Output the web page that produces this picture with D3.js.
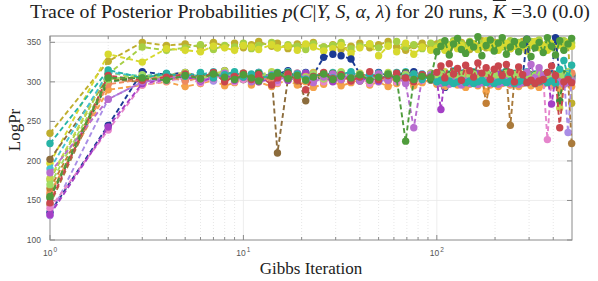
<!DOCTYPE html>
<html>
<head>
<meta charset="utf-8">
<script src="https://cdn.jsdelivr.net/npm/d3@7"></script>
<style>
    body { margin: 0; background: #fff; }
    svg { display: block; }
</style>
</head>
<body>
<div id="chart"></div>
<script>
const iters = [1, 2, 3, 4, 5, 6, 7, 8, 9, 10,
    11, 12, 14, 15, 17, 19, 21, 23, 26, 29, 32, 36, 40, 45, 50, 56, 62, 69, 76, 84, 93,
    100, 105, 110, 116, 122, 128, 134, 141, 148, 155, 163, 171, 180, 189, 198, 208, 218, 229, 240, 252,
    265, 278, 292, 307, 322, 338, 355, 373, 392, 411, 432, 454, 477, 498];

const runColors = ['#bfae2e', '#a6cf45', '#d7d92f', '#1b3a93', '#8c6c3c', '#f4a24a', '#c27f35', '#a97a3b', '#a98ee6', '#c5d54e',
    '#45c4d3', '#3f8c3b', '#e585cc', '#a43fc6', '#ee8a5f', '#9fdc64', '#b86dcf', '#27b4a6', '#c9464d', '#4f9c3c'];

const logPr = [
    [235, 326, 350, 346, 348, 344, 350, 345, 349, 343,
     347, 351, 345, 349, 342, 348, 346, 350, 344, 347, 341, 345, 349, 343, 347, 351, 344, 340, 346, 349, 343,
     348, 345, 351, 342, 347, 344, 350, 346, 341, 348, 345, 352, 343, 347, 350, 344, 349, 346, 342, 348,
     345, 351, 343, 347, 344, 350, 346, 341, 348, 345, 352, 344, 349, 273],
    [176, 310, 344, 340, 343, 347, 341, 346, 344, 349,
     342, 346, 350, 343, 347, 345, 341, 348, 344, 346, 350, 342, 345, 348, 343, 346, 351, 344, 347, 342, 349,
     345, 350, 343, 347, 352, 345, 348, 344, 351, 346, 343, 349, 347, 353, 345, 350, 344, 348, 352, 346,
     350, 347, 344, 351, 348, 353, 345, 349, 343, 350, 347, 352, 346, 349],
    [197, 335, 325, 342, 340, 338, 345, 343, 340, 346,
     344, 341, 347, 343, 345, 340, 348, 344, 339, 342, 346, 336, 343, 348, 333, 345, 338, 349, 335, 344, 340,
     343, 347, 340, 345, 350, 342, 346, 339, 344, 348, 341, 345, 352, 343, 347, 340, 346, 349, 342, 345,
     348, 344, 339, 347, 351, 343, 346, 340, 349, 344, 347, 341, 350, 345],
    [135, 245, 313, 309, 312, 306, 310, 314, 307, 311,
     308, 312, 306, 310, 314, 308, 312, 309, 331, 335, 333, 329, 310, 306, 312, 308, 304, 309, 313, 307, 311,
     308, 311, 293, 306, 312, 304, 309, 313, 306, 310, 303, 308, 312, 306, 309, 305, 311, 307, 303, 308,
     312, 306, 354, 309, 305, 311, 307, 302, 308, 356, 306, 310, 304, 308],
    [202, 305, 300, 304, 308, 302, 306, 310, 303, 307,
     301, 305, 309, 210, 304, 307, 276, 302, 306, 310, 303, 307, 301, 305, 309, 302, 306, 300, 304, 308, 302,
     306, 301, 305, 309, 303, 307, 300, 304, 308, 302, 306, 310, 303, 307, 301, 305, 309, 302, 306, 300,
     304, 308, 302, 306, 301, 305, 309, 303, 307, 300, 304, 308, 302, 306],
    [160, 290, 296, 300, 294, 298, 302, 295, 299, 303,
     296, 300, 294, 298, 302, 296, 300, 293, 297, 301, 295, 299, 303, 296, 300, 294, 298, 302, 295, 299, 303,
     297, 301, 294, 298, 302, 296, 300, 293, 297, 301, 295, 299, 288, 296, 300, 294, 298, 302, 296, 300,
     294, 298, 301, 295, 299, 293, 297, 301, 295, 299, 291, 297, 300, 294],
    [165, 300, 308, 304, 309, 303, 307, 311, 305, 309,
     302, 306, 310, 304, 308, 301, 305, 309, 303, 307, 311, 305, 309, 302, 306, 310, 304, 308, 301, 305, 309,
     303, 307, 311, 305, 309, 302, 306, 310, 304, 308, 302, 306, 273, 304, 308, 302, 306, 310, 304, 308,
     301, 305, 309, 303, 307, 311, 305, 309, 302, 306, 310, 304, 308, 311],
    [145, 303, 300, 305, 309, 302, 306, 310, 304, 308,
     301, 305, 309, 303, 307, 311, 304, 308, 302, 306, 310, 303, 307, 301, 305, 309, 302, 306, 310, 304, 308,
     302, 306, 310, 304, 308, 301, 305, 309, 303, 307, 311, 305, 309, 302, 306, 310, 304, 308, 245, 303,
     307, 301, 305, 309, 302, 306, 300, 304, 308, 302, 306, 310, 304, 222],
    [131, 278, 300, 305, 302, 307, 301, 306, 310, 303,
     307, 301, 305, 309, 302, 306, 310, 304, 308, 301, 305, 309, 303, 307, 300, 304, 308, 302, 306, 310, 303,
     307, 301, 305, 309, 303, 307, 311, 304, 308, 302, 306, 310, 303, 307, 301, 305, 309, 302, 306, 310,
     304, 308, 302, 306, 310, 303, 307, 301, 305, 309, 303, 307, 236, 304],
    [178, 312, 304, 308, 312, 306, 310, 314, 307, 311,
     305, 309, 313, 306, 310, 304, 308, 312, 305, 309, 313, 307, 311, 304, 308, 312, 306, 310, 303, 307, 311,
     305, 309, 313, 307, 311, 304, 308, 312, 306, 310, 304, 308, 312, 306, 310, 303, 307, 311, 305, 309,
     313, 307, 311, 304, 308, 312, 306, 310, 303, 307, 267, 309, 313, 306],
    [190, 312, 307, 311, 305, 309, 313, 306, 310, 304,
     308, 312, 305, 309, 313, 307, 311, 304, 308, 312, 306, 310, 303, 307, 311, 305, 309, 313, 306, 310, 304,
     308, 312, 306, 310, 314, 307, 311, 305, 309, 313, 306, 310, 304, 308, 312, 306, 310, 314, 307, 311,
     305, 309, 313, 306, 310, 304, 308, 312, 306, 310, 314, 307, 311, 305],
    [153, 300, 306, 310, 304, 308, 312, 305, 309, 303,
     307, 311, 304, 308, 312, 306, 310, 303, 307, 311, 305, 309, 302, 306, 310, 304, 308, 312, 305, 309, 303,
     307, 311, 305, 309, 313, 306, 310, 304, 308, 312, 305, 309, 303, 307, 311, 305, 309, 313, 306, 310,
     304, 308, 312, 305, 309, 303, 307, 311, 305, 309, 276, 310, 304, 308],
    [140, 239, 296, 301, 305, 299, 304, 308, 300, 303,
     307, 301, 305, 299, 304, 308, 302, 306, 300, 304, 309, 301, 305, 298, 303, 307, 300, 304, 308, 302, 306,
     304, 308, 301, 305, 309, 302, 306, 300, 304, 308, 302, 306, 301, 305, 300, 307, 303, 306, 301, 305,
     300, 304, 308, 302, 306, 301, 305, 227, 306, 301, 305, 302, 306, 300],
    [132, 243, 298, 303, 307, 301, 305, 310, 302, 306,
     309, 300, 304, 308, 302, 306, 311, 303, 307, 300, 305, 309, 302, 306, 301, 307, 304, 310, 302, 305, 308,
     302, 265, 306, 303, 309, 301, 305, 308, 302, 306, 310, 303, 307, 300, 305, 309, 304, 308, 302, 306,
     301, 305, 309, 303, 307, 300, 304, 308, 272, 306, 302, 306, 300, 304],
    [157, 297, 303, 307, 301, 305, 309, 302, 306, 310,
     304, 308, 301, 305, 309, 303, 307, 311, 304, 308, 302, 306, 310, 303, 307, 301, 305, 309, 302, 306, 310,
     304, 308, 302, 306, 310, 303, 307, 311, 305, 309, 302, 306, 310, 304, 308, 301, 305, 309, 303, 307,
     311, 305, 309, 302, 306, 310, 304, 308, 301, 305, 309, 303, 307, 311],
    [170, 303, 309, 305, 310, 304, 308, 312, 306, 310,
     303, 307, 311, 305, 309, 302, 306, 310, 304, 308, 312, 306, 310, 303, 307, 311, 305, 309, 302, 306, 310,
     306, 310, 303, 307, 311, 305, 309, 302, 306, 310, 304, 308, 312, 306, 310, 303, 307, 311, 305, 309,
     302, 306, 310, 304, 308, 312, 306, 310, 303, 307, 311, 305, 309, 302],
    [185, 278, 300, 304, 309, 302, 306, 311, 303, 308,
     300, 305, 309, 302, 307, 311, 304, 299, 306, 310, 303, 308, 301, 305, 310, 302, 307, 298, 242, 305, 309,
     300, 298, 301, 297, 300, 299, 296, 301, 298, 300, 297, 299, 301, 298, 300, 297, 299, 301, 298, 300,
     297, 299, 312, 322, 305, 318, 308, 299, 301, 298, 300, 297, 299, 301],
    [222, 315, 305, 310, 307, 312, 305, 309, 313, 306,
     310, 304, 308, 312, 306, 310, 303, 307, 311, 305, 309, 313, 306, 310, 304, 308, 312, 306, 310, 303, 307,
     300, 302, 299, 301, 298, 300, 302, 299, 301, 298, 300, 302, 299, 301, 298, 300, 302, 299, 301, 298,
     300, 302, 299, 301, 298, 300, 302, 299, 301, 298, 316, 327, 306, 321],
    [147, 308, 302, 306, 310, 304, 312, 300, 307, 311,
     303, 309, 296, 305, 310, 302, 290, 307, 312, 304, 309, 301, 306, 313, 303, 308, 311, 305, 300, 309, 306,
     312, 320, 305, 323, 310, 317, 302, 321, 314, 306, 324, 311, 318, 303, 316, 320, 308, 322, 312, 300,
     319, 309, 299, 302, 298, 301, 303, 312, 320, 308, 242, 300, 303, 299],
    [155, 305, 305, 302, 308, 304, 310, 306, 303, 309,
     305, 301, 307, 311, 304, 308, 302, 306, 310, 303, 307, 305, 309, 302, 306, 310, 304, 225, 303, 307, 305,
     338, 345, 352, 334, 348, 355, 341, 336, 350, 344, 357, 333, 346, 353, 339, 349, 356, 335, 344, 351,
     338, 347, 354, 332, 343, 350, 337, 356, 345, 334, 352, 340, 348, 355]
];

const yTicks = [100, 150, 200, 250, 300, 350];
const xMajor = [1, 10, 100];
const xMinor = [2, 3, 4, 5, 6, 7, 8, 9, 20, 30, 40, 50, 60, 70, 80, 90, 200, 300, 400];

var width = 598, height = 281,
    plotLeft = 50, plotRight = 572, plotTop = 36, plotBottom = 240,
    axisColor = '#8a8a8a';

var x = d3.scaleLog().domain([1, 500]).range([plotLeft, plotRight]),
    y = d3.scaleLinear().domain([100, 358]).range([plotBottom, plotTop]);

var svg = d3.select('#chart').append('svg')
    .attr('width', width)
    .attr('height', height);

// grid
svg.append('g').selectAll('line')
    .data(yTicks.slice(1))
    .enter().append('line')
    .attr('x1', plotLeft).attr('x2', plotRight)
    .attr('y1', function (d) { return y(d); }).attr('y2', function (d) { return y(d); })
    .attr('stroke', '#e9e9e9').attr('stroke-width', 0.8);

svg.append('g').selectAll('line')
    .data(xMinor)
    .enter().append('line')
    .attr('x1', function (d) { return x(d); }).attr('x2', function (d) { return x(d); })
    .attr('y1', plotTop).attr('y2', plotBottom)
    .attr('stroke', '#dcdcdc').attr('stroke-width', 0.7).attr('stroke-dasharray', '1,2');

svg.append('g').selectAll('line')
    .data(xMajor.slice(1))
    .enter().append('line')
    .attr('x1', function (d) { return x(d); }).attr('x2', function (d) { return x(d); })
    .attr('y1', plotTop).attr('y2', plotBottom)
    .attr('stroke', '#e9e9e9').attr('stroke-width', 0.8);

// axes box and ticks
var axes = svg.append('g');
axes.append('rect')
    .attr('x', plotLeft).attr('y', plotTop)
    .attr('width', plotRight - plotLeft).attr('height', plotBottom - plotTop)
    .attr('fill', 'none').attr('stroke', axisColor).attr('stroke-width', 1);

xMajor.concat(xMinor).forEach(function (d) {
    var len = xMajor.indexOf(d) >= 0 ? 5 : 3;
    axes.append('line').attr('x1', x(d)).attr('x2', x(d)).attr('y1', plotBottom).attr('y2', plotBottom - len)
        .attr('stroke', axisColor);
    axes.append('line').attr('x1', x(d)).attr('x2', x(d)).attr('y1', plotTop).attr('y2', plotTop + len)
        .attr('stroke', axisColor);
});
yTicks.forEach(function (d) {
    axes.append('line').attr('x1', plotLeft).attr('x2', plotLeft + 5).attr('y1', y(d)).attr('y2', y(d)).attr('stroke', axisColor);
    axes.append('line').attr('x1', plotRight).attr('x2', plotRight - 5).attr('y1', y(d)).attr('y2', y(d)).attr('stroke', axisColor);
});

svg.append('g').selectAll('text')
    .data(yTicks)
    .enter().append('text')
    .attr('x', plotLeft - 9)
    .attr('y', function (d) { return y(d) + 3; })
    .attr('text-anchor', 'end')
    .attr('font-family', 'Liberation Sans, Arial, sans-serif')
    .attr('font-size', 8.5)
    .attr('fill', '#555')
    .text(function (d) { return d; });

var xLabels = svg.append('g').selectAll('text')
    .data(xMajor)
    .enter().append('text')
    .attr('x', function (d) { return x(d); })
    .attr('y', 256)
    .attr('text-anchor', 'middle')
    .attr('font-family', 'Liberation Sans, Arial, sans-serif')
    .attr('font-size', 8.5)
    .attr('fill', '#555');
xLabels.append('tspan').text('10');
xLabels.append('tspan')
    .attr('dy', -4).attr('dx', 1).attr('font-size', 6.5)
    .text(function (d) { return Math.round(Math.log10(d)); });

// runs
var line = d3.line()
    .x(function (d) { return x(d[0]); })
    .y(function (d) { return y(d[1]); });

logPr.forEach(function (vals, i) {
    var pts = vals.map(function (v, k) { return [iters[k], v]; })
        .filter(function (d) { return d[0] !== undefined; });
    var g = svg.append('g');
    g.append('path')
        .datum(pts)
        .attr('d', line)
        .attr('fill', 'none')
        .attr('stroke', runColors[i])
        .attr('stroke-width', 1.9)
        .attr('stroke-dasharray', '5,3');
    g.selectAll('circle')
        .data(pts)
        .enter().append('circle')
        .attr('cx', function (d) { return x(d[0]); })
        .attr('cy', function (d) { return y(d[1]); })
        .attr('r', 3.7)
        .attr('fill', runColors[i]);
});

// labels
var serif = 'Liberation Serif, Times New Roman, serif';

var title = svg.append('text')
    .attr('x', 310).attr('y', 18)
    .attr('text-anchor', 'middle')
    .attr('font-family', serif)
    .attr('font-size', 18)
    .attr('fill', '#222');
title.append('tspan').text('Trace of Posterior Probabilities ');
title.append('tspan').attr('font-style', 'italic').text('p');
title.append('tspan').text('(');
title.append('tspan').attr('font-style', 'italic').text('C');
title.append('tspan').text('|');
title.append('tspan').attr('font-style', 'italic').text('Y, S, α, λ');
title.append('tspan').text(') for 20 runs, ');
title.append('tspan').attr('font-style', 'italic').style('text-decoration', 'overline').text('K');
title.append('tspan').text(' =3.0 (0.0)');

var tw = title.node().getComputedTextLength();
if (tw > 0) title.attr('font-size', 18 * 560 / tw);

svg.append('text')
    .attr('x', 311).attr('y', 274)
    .attr('text-anchor', 'middle')
    .attr('font-family', serif)
    .attr('font-size', 17)
    .attr('fill', '#222')
    .text('Gibbs Iteration');

svg.append('text')
    .attr('transform', 'translate(20,130) rotate(-90)')
    .attr('text-anchor', 'middle')
    .attr('font-family', serif)
    .attr('font-size', 17)
    .attr('fill', '#222')
    .text('LogPr');
</script>
</body>
</html>
